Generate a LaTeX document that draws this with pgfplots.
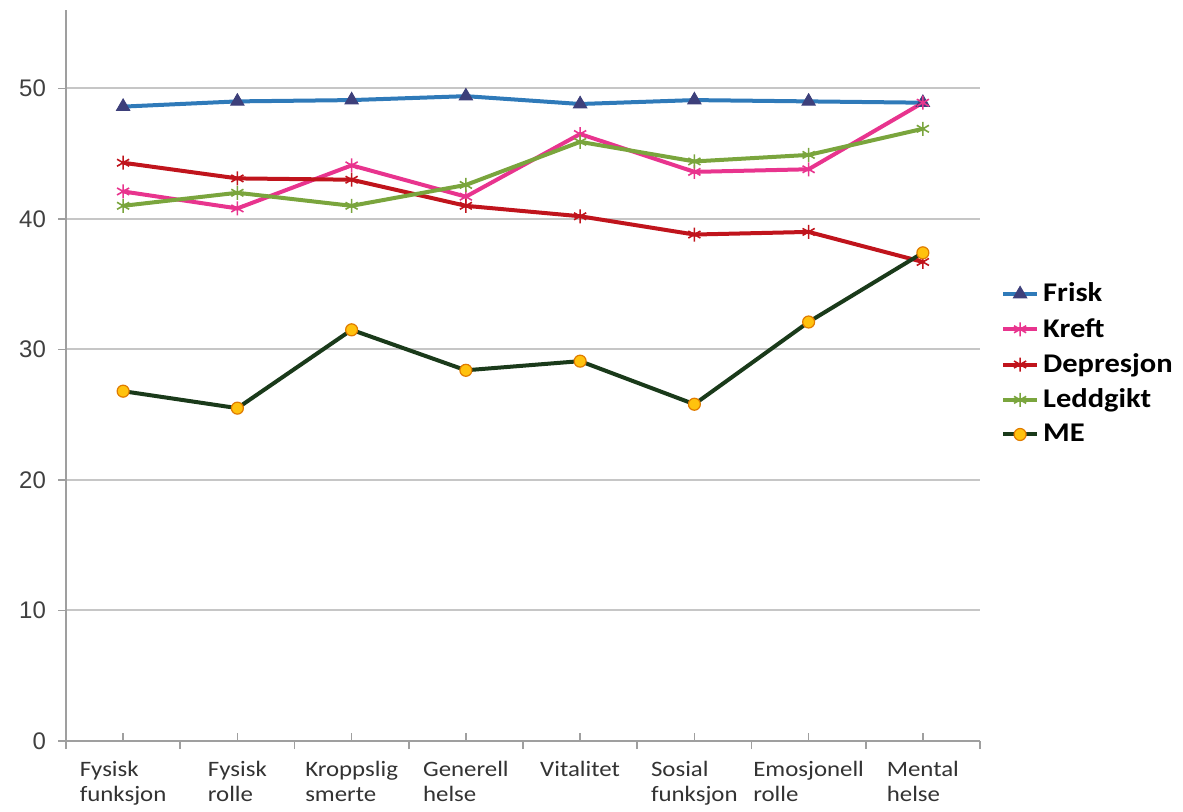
\documentclass[border=0pt]{standalone}
\usepackage{pgfplots}
\pgfplotsset{compat=1.18}
\usepackage{fontspec}
\setmainfont[FakeStretch=1.13]{Carlito}
\newfontfamily\arialf{Liberation Sans}
\definecolor{friskline}{HTML}{2F7AB9}
\definecolor{friskmark}{HTML}{3D3F7A}
\definecolor{kreft}{HTML}{E8348E}
\definecolor{depr}{HTML}{C0141C}
\definecolor{ledd}{HTML}{7AA53D}
\definecolor{meline}{HTML}{1A3A1A}
\definecolor{mefill}{HTML}{FFC20E}
\definecolor{medraw}{HTML}{E07B00}
\begin{document}
\begin{tikzpicture}
\useasboundingbox (-33pt,-35pt) rectangle (558.5pt,370.5pt);
\begin{axis}[
  at={(0,0)}, anchor=south west,
  scale only axis, width=457pt, height=365.5pt,
  xmin=-0.5, xmax=7.5, ymin=0, ymax=56,
  axis x line=bottom, axis y line=left,
  axis line style={-, draw=gray!75, line width=0.8pt},
  tick style={draw=gray!75, line width=0.8pt},
  major tick length=4pt,
  ytick={0,10,20,30,40,50}, ytick align=outside,
  ymajorgrids, grid style={draw=gray!45, line width=1pt},
  yticklabel style={font=\arialf\fontsize{12}{14}\selectfont, text=black!75, xshift=-2.5pt,
    /pgf/number format/assume math mode=true},
  xtick={0,...,7}, xtick align=inside,
  xticklabels={{Fysisk\\funksjon},{Fysisk\\rolle},{Kroppslig\\smerte},{Generell\\helse},{Vitalitet},{Sosial\\funksjon},{Emosjonell\\rolle},{Mental\\helse}},
  xticklabel style={align=left, font=\fontsize{11}{12.8}\selectfont, text=black!80, yshift=-6.5pt, anchor=north},
  extra x ticks={-0.5,0.5,1.5,2.5,3.5,4.5,5.5,6.5,7.5},
  extra x tick labels={},
  extra x tick style={tick align=outside},
  legend style={at={(1.016,0.638)}, anchor=north west, draw=none, fill=none,
    font=\bfseries\fontsize{13.5}{15}\selectfont, row sep=2.7pt},
  legend cell align=left,
  every axis plot/.append style={line width=2pt},
]
\addplot[friskline, mark=triangle*, mark size=3.8pt, mark options={fill=friskmark, draw=friskmark, line width=0.5pt}]
  coordinates {(0,48.6) (1,49.0) (2,49.1) (3,49.4) (4,48.8) (5,49.1) (6,49.0) (7,48.9)};
\addlegendentry{Frisk}
\addplot[kreft, mark=asterisk, mark size=3.5pt, mark options={line width=0.8pt}]
  coordinates {(0,42.1) (1,40.8) (2,44.1) (3,41.7) (4,46.5) (5,43.6) (6,43.8) (7,48.9)};
\addlegendentry{Kreft}
\addplot[depr, mark=asterisk, mark size=3.5pt, mark options={line width=0.8pt}]
  coordinates {(0,44.3) (1,43.1) (2,43.0) (3,41.0) (4,40.2) (5,38.8) (6,39.0) (7,36.7)};
\addlegendentry{Depresjon}
\addplot[ledd, mark=asterisk, mark size=3.5pt, mark options={line width=0.8pt}]
  coordinates {(0,41.0) (1,42.0) (2,41.0) (3,42.6) (4,45.9) (5,44.4) (6,44.9) (7,46.9)};
\addlegendentry{Leddgikt}
\addplot[meline, mark=*, mark size=3pt, mark options={fill=mefill, draw=medraw, line width=0.6pt}]
  coordinates {(0,26.8) (1,25.5) (2,31.5) (3,28.4) (4,29.1) (5,25.8) (6,32.1) (7,37.4)};
\addlegendentry{ME}
\end{axis}
\end{tikzpicture}
\end{document}
